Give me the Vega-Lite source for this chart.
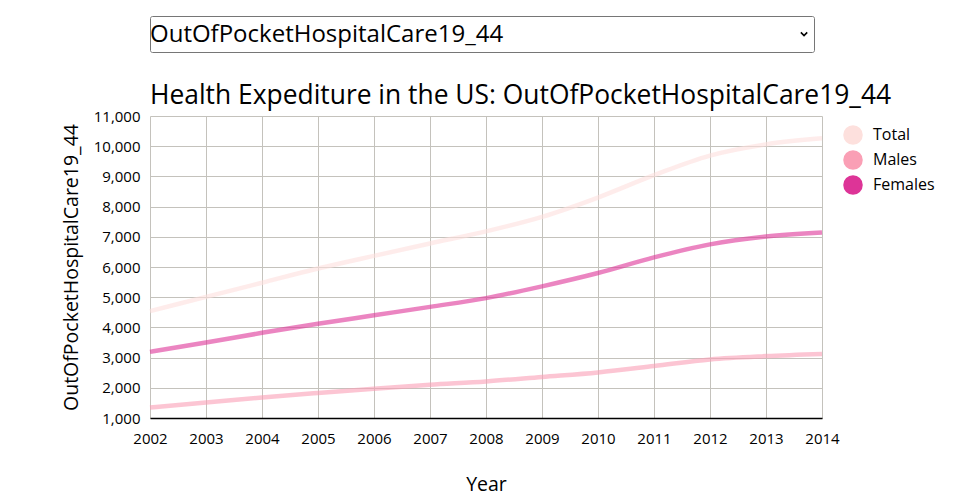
{
  "$schema": "https://vega.github.io/schema/vega-lite/v6.json",
  "background": "white",
  "padding": {"top": 15, "left": 61, "right": 5, "bottom": 5},
  "config": {
    "font": "Open Sans",
    "view": {"stroke": null},
    "axis": {"labelColor": "#000", "titleColor": "#000", "titleFontWeight": "normal", "gridColor": "#c4c2bc", "gridOpacity": 1}
  },
  "spacing": 29,
  "vconcat": [
    {
      "width": 664,
      "height": 36,
      "view": {"stroke": "#767676", "strokeWidth": 1, "cornerRadius": 2},
      "data": {"values": [{"label": "OutOfPocketHospitalCare19_44"}]},
      "layer": [
        {
          "mark": {"type": "text", "align": "left", "baseline": "middle", "fontSize": 24, "color": "#000"},
          "encoding": {
            "text": {"field": "label"},
            "x": {"datum": 0.0, "type": "quantitative", "scale": {"domain": [0, 1], "nice": false}, "axis": null},
            "y": {"datum": 0.47, "type": "quantitative", "scale": {"domain": [0, 1], "nice": false}, "axis": null}
          }
        },
        {
          "mark": {"type": "point", "shape": "M-1,-0.5L0,0.5L1,-0.5", "filled": false, "size": 40, "strokeWidth": 1.6, "color": "#000", "opacity": 1},
          "encoding": {
            "x": {"datum": 0.985, "type": "quantitative"},
            "y": {"datum": 0.5, "type": "quantitative"}
          }
        }
      ]
    },
    {
      "title": {"text": "Health Expediture in the US: OutOfPocketHospitalCare19_44", "anchor": "start", "frame": "group", "fontSize": 26.4, "fontWeight": "normal", "color": "#000", "offset": 0},
      "width": 672,
      "height": 302,
      "data": {"values": [
        {"Year": 2002, "Group": "Total", "Value": 4540},
        {"Year": 2003, "Group": "Total", "Value": 5010},
        {"Year": 2004, "Group": "Total", "Value": 5480},
        {"Year": 2005, "Group": "Total", "Value": 5950},
        {"Year": 2006, "Group": "Total", "Value": 6370},
        {"Year": 2007, "Group": "Total", "Value": 6780},
        {"Year": 2008, "Group": "Total", "Value": 7180},
        {"Year": 2009, "Group": "Total", "Value": 7660},
        {"Year": 2010, "Group": "Total", "Value": 8300},
        {"Year": 2011, "Group": "Total", "Value": 9040},
        {"Year": 2012, "Group": "Total", "Value": 9690},
        {"Year": 2013, "Group": "Total", "Value": 10060},
        {"Year": 2014, "Group": "Total", "Value": 10260},
        {"Year": 2002, "Group": "Males", "Value": 1350},
        {"Year": 2003, "Group": "Males", "Value": 1510},
        {"Year": 2004, "Group": "Males", "Value": 1680},
        {"Year": 2005, "Group": "Males", "Value": 1830},
        {"Year": 2006, "Group": "Males", "Value": 1970},
        {"Year": 2007, "Group": "Males", "Value": 2100},
        {"Year": 2008, "Group": "Males", "Value": 2210},
        {"Year": 2009, "Group": "Males", "Value": 2360},
        {"Year": 2010, "Group": "Males", "Value": 2510},
        {"Year": 2011, "Group": "Males", "Value": 2720},
        {"Year": 2012, "Group": "Males", "Value": 2940},
        {"Year": 2013, "Group": "Males", "Value": 3050},
        {"Year": 2014, "Group": "Males", "Value": 3120},
        {"Year": 2002, "Group": "Females", "Value": 3190},
        {"Year": 2003, "Group": "Females", "Value": 3500},
        {"Year": 2004, "Group": "Females", "Value": 3820},
        {"Year": 2005, "Group": "Females", "Value": 4120},
        {"Year": 2006, "Group": "Females", "Value": 4400},
        {"Year": 2007, "Group": "Females", "Value": 4680},
        {"Year": 2008, "Group": "Females", "Value": 4970},
        {"Year": 2009, "Group": "Females", "Value": 5360},
        {"Year": 2010, "Group": "Females", "Value": 5800},
        {"Year": 2011, "Group": "Females", "Value": 6320},
        {"Year": 2012, "Group": "Females", "Value": 6750},
        {"Year": 2013, "Group": "Females", "Value": 7010},
        {"Year": 2014, "Group": "Females", "Value": 7140}
      ]},
      "mark": {"type": "line", "interpolate": "monotone", "strokeWidth": 4.5, "opacity": 0.6},
      "encoding": {
        "x": {
          "field": "Year", "type": "quantitative",
          "scale": {"domain": [2002, 2014], "nice": false, "zero": false},
          "axis": {"format": "d", "values": [2002, 2003, 2004, 2005, 2006, 2007, 2008, 2009, 2010, 2011, 2012, 2013, 2014], "ticks": false, "labelPadding": 13, "labelFontSize": 15, "titleFontSize": 19.5, "titlePadding": 29, "domainColor": "#000", "domainWidth": 1.5, "labelFlush": false}
        },
        "y": {
          "field": "Value", "type": "quantitative", "title": "OutOfPocketHospitalCare19_44",
          "scale": {"domain": [1000, 11000], "nice": false},
          "axis": {"values": [1000, 2000, 3000, 4000, 5000, 6000, 7000, 8000, 9000, 10000, 11000], "domain": false, "ticks": false, "labelPadding": 10, "labelFontSize": 15, "titleFontSize": 19.5, "titlePadding": 12}
        },
        "color": {
          "field": "Group", "type": "nominal",
          "sort": ["Total", "Males", "Females"],
          "scale": {"domain": ["Total", "Males", "Females"], "range": ["#fde0dd", "#fa9fb5", "#dd3497"]},
          "legend": {
            "title": null, "orient": "none", "legendX": 693, "legendY": 109,
            "symbolType": "circle", "symbolSize": 380, "symbolOpacity": 1, "symbolStrokeWidth": 0,
            "labelFontSize": 16, "labelColor": "#000", "labelOffset": 10, "rowPadding": 5, "padding": 0,
            "encode": {"symbols": {"update": {"fill": {"scale": "color", "field": "value"}, "opacity": {"value": 1}}}}
          }
        }
      }
    }
  ]
}
